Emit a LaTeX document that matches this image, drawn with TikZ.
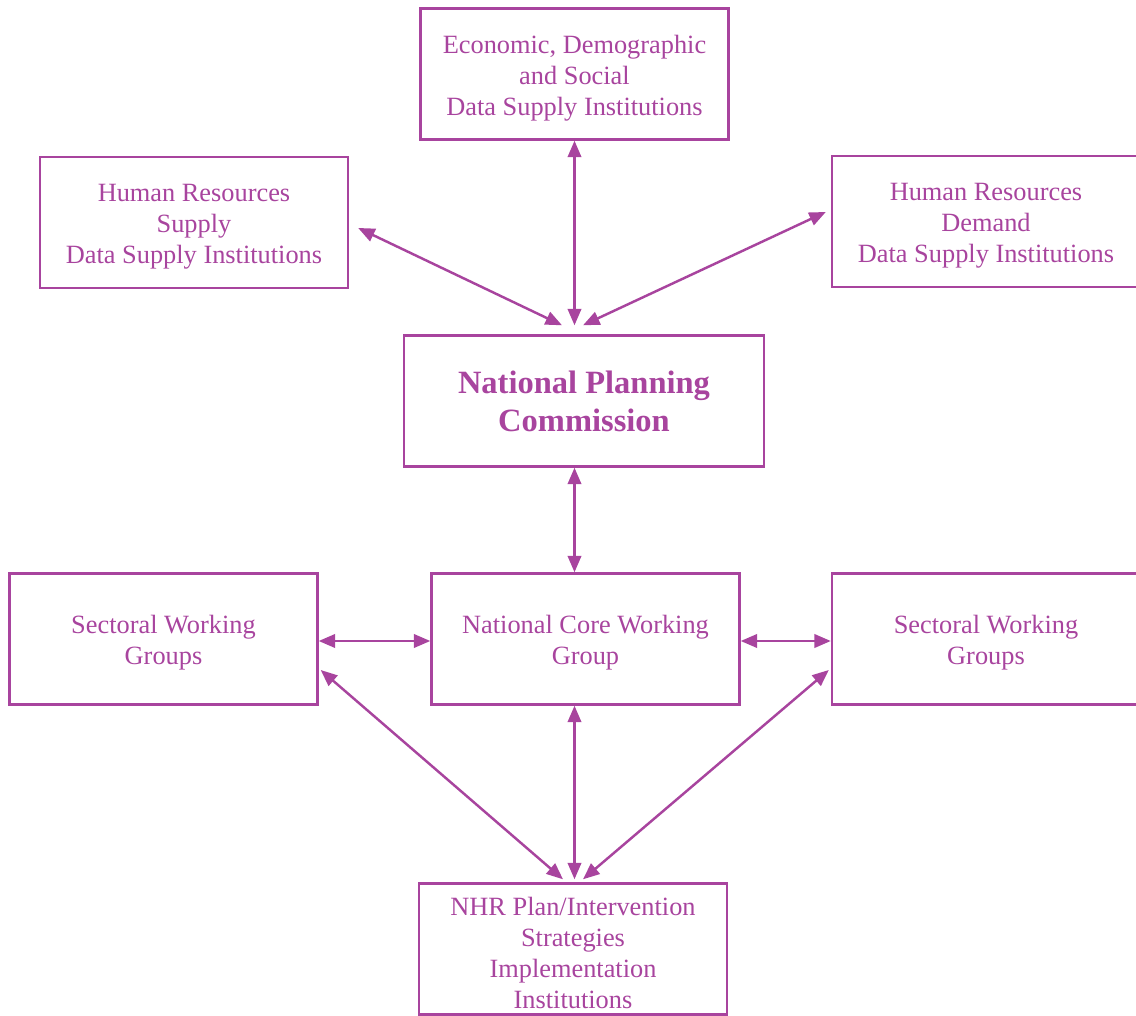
\documentclass[tikz,border=0pt]{standalone}
\usepackage{fontspec}
\setmainfont{Liberation Serif}
\usepackage{tikz}
\usetikzlibrary{arrows.meta, calc}
\definecolor{PlanPurple}{RGB}{168,68,158}
\newcommand{\topstrut}{\rule{0pt}{15pt}}

\begin{document}
\begin{tikzpicture}[x=0.02cm, y=-0.02cm,
	box/.style={draw=PlanPurple, line width=1.4pt, text=PlanPurple, align=center,
		minimum width=6.16cm, minimum height=2.62cm, inner sep=2pt,
		font=\fontsize{15}{17.6}\selectfont},
	link/.style={{Triangle[length=3.3mm, width=2.7mm]}-{Triangle[length=3.3mm, width=2.7mm]},
		line width=1.4pt, PlanPurple}]
	\useasboundingbox (0,0) rectangle (1136,1016);
	% upper level: data suppliers
	\node[box] (econ) at (574.5,74) {\topstrut Economic, Demographic\\and Social\\Data Supply Institutions};
	\node[box] (hrs) at (194,222.5) {\topstrut Human Resources\\Supply\\Data Supply Institutions};
	\node[box] (hrd) at (986,221.5) {\topstrut Human Resources\\Demand\\Data Supply Institutions};
	\node[box, minimum width=7.2cm, font=\fontsize{18.5}{21.5}\selectfont\bfseries]
		(npc) at (584,401) {National Planning\\Commission};
	% lower level: working groups
	\node[box] (ncwg) at (585.5,639) {\topstrut National Core Working\\Group};
	\node[box] (swl) at (163.5,639) {\topstrut Sectoral Working\\Groups};
	\node[box] (swr) at (986,639) {\topstrut Sectoral Working\\Groups};
	\node[box] (nhr) at (573,949) {\topstrut NHR Plan/Intervention\\Strategies\\Implementation\\Institutions};
	% connectors
	\draw[link] (econ.south) -- ($(econ.south |- npc.north)+(0,-9)$);
	\draw[link] ($(hrs.east)+(9,5.5)$) -- ($(npc.north)+(-22,-9)$);
	\draw[link] ($(hrd.west)+(-5,-9.5)$) -- ($(npc.north)+(-1,-9)$);
	\draw[link] (npc.south -| econ.south) -- (ncwg.north -| econ.south);
	\draw[link] ($(swl.east)+(0,2)$) -- ($(ncwg.west)+(0,2)$);
	\draw[link] ($(ncwg.east)+(0,2)$) -- ($(swr.west)+(0,2)$);
	\draw[link] ($(swl.east)+(2,31)$) -- ($(nhr.north)+(-10,-3)$);
	\draw[link] (ncwg.south -| econ.south) -- ($(nhr.north -| econ.south)+(0,-3)$);
	\draw[link] ($(swr.west)+(-2,31)$) -- ($(nhr.north)+(10,-3)$);
\end{tikzpicture}
\end{document}
